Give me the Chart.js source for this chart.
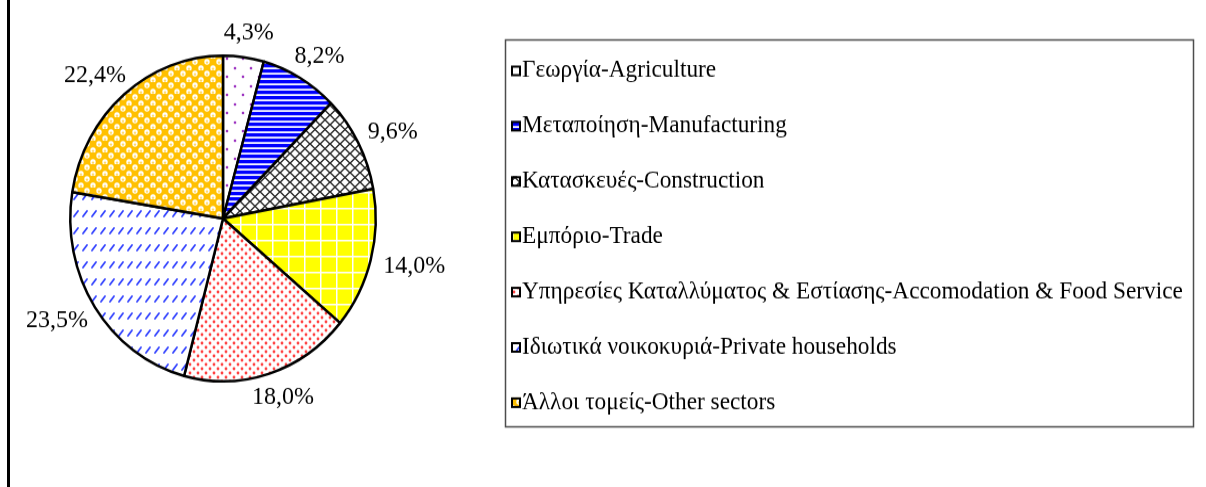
<!DOCTYPE html>
<html>
<head>
<meta charset="utf-8">
<title>Employment by sector</title>
<script src="https://cdn.jsdelivr.net/npm/chart.js@4.4.1/dist/chart.umd.min.js"></script>
<style>
    html, body { margin: 0; padding: 0; background: #ffffff; }
    #wrap { position: relative; width: 1206px; height: 487px; }
</style>
</head>
<body>
<div id="wrap">
    <!-- drawn at 1206x457 and shown at 1206x487: the original figure is a bit stretched vertically -->
    <canvas id="sectors" width="1206" height="457" style="width:1206px;height:487px;"></canvas>
</div>
<script>
(function() {
    'use strict';

    // Sector names (legend order = slice order, clockwise from 12 o'clock)
    var categories = [
        'Γεωργία-Agriculture',
        'Μεταποίηση-Manufacturing',
        'Κατασκευές-Construction',
        'Εμπόριο-Trade',
        'Υπηρεσίες Καταλλύματος & Εστίασης-Accomodation & Food Service',
        'Ιδιωτικά νοικοκυριά-Private households',
        'Άλλοι τομείς-Other sectors'
    ];

    // Share of each sector, %
    var shares = [4.3, 8.2, 9.6, 14.0, 18.0, 23.5, 22.4];

    var FONT = '"Liberation Serif", "Times New Roman", Times, serif';

    /**
     * Build a repeating fill from a small tile
     */
    function makePattern(w, h, paint) {
        var tile = document.createElement('canvas');
        tile.width = w;
        tile.height = h;
        var c = tile.getContext('2d');
        paint(c, w, h);
        return c.createPattern(tile, 'repeat');
    }

    function dot(c, x, y, r, color) {
        c.fillStyle = color;
        c.beginPath();
        c.arc(x, y, r, 0, Math.PI * 2);
        c.fill();
    }

    var painters = [
        // sparse purple dots
        function(c, w, h) {
            c.fillStyle = '#ffffff';
            c.fillRect(0, 0, w, h);
            dot(c, 3, 4, 1.3, '#9b30c0');
            dot(c, 11, 13, 1.3, '#9b30c0');
        },
        // blue horizontal stripes
        function(c, w, h) {
            c.fillStyle = '#ffffff';
            c.fillRect(0, 0, w, h);
            c.fillStyle = '#0000ff';
            c.fillRect(0, 0, w, 3);
            c.fillStyle = '#9999ff';
            c.fillRect(0, 3, w, 0.6);
        },
        // black diagonal lattice
        function(c, w, h) {
            c.fillStyle = '#ffffff';
            c.fillRect(0, 0, w, h);
            c.strokeStyle = '#222222';
            c.lineWidth = 1.4;
            c.beginPath();
            c.moveTo(-1, -1); c.lineTo(w + 1, h + 1);
            c.moveTo(-1, h + 1); c.lineTo(w + 1, -1);
            c.stroke();
        },
        // yellow with white grid
        function(c, w, h) {
            c.fillStyle = '#ffff00';
            c.fillRect(0, 0, w, h);
            c.fillStyle = '#ffffff';
            c.fillRect(0, 0, w, 1.5);
            c.fillRect(0, 0, 1.5, h);
        },
        // dense red dots
        function(c, w, h) {
            c.fillStyle = '#ffffff';
            c.fillRect(0, 0, w, h);
            dot(c, 2, 2, 1.4, '#ff4040');
            dot(c, 6, 6, 1.4, '#ff4040');
        },
        // blue short diagonal dashes
        function(c, w, h) {
            c.fillStyle = '#ffffff';
            c.fillRect(0, 0, w, h);
            c.strokeStyle = '#3040ff';
            c.lineWidth = 1.8;
            c.lineCap = 'round';
            c.beginPath();
            c.moveTo(2, 11);
            c.lineTo(6, 6);
            c.stroke();
        },
        // gold checker with white rings
        function(c, w, h) {
            c.fillStyle = '#ffc000';
            c.fillRect(0, 0, w, h);
            dot(c, 3, 3, 2.7, '#ffffff');
            dot(c, 9, 9, 2.7, '#ffffff');
            dot(c, 3, 3.6, 1.2, '#ffd966');
            dot(c, 9, 9.6, 1.2, '#ffd966');
        }
    ];
    var tileSizes = [[16, 17], [8, 5], [10, 9], [16, 15], [8, 8], [9, 16], [12, 11]];

    var fills = painters.map(function(p, i) {
        return makePattern(tileSizes[i][0], tileSizes[i][1], p);
    });

    /**
     * Frame line, boxed legend and outside percentage labels
     */
    var decor = {
        id: 'decor',
        afterDraw: function(chart) {
            var ctx = chart.ctx;
            ctx.save();

            // left frame edge
            ctx.fillStyle = '#000000';
            ctx.fillRect(7, 0, 3, chart.height);

            // percentage labels: text box sits just outside the rim, along the mid-angle
            var meta = chart.getDatasetMeta(0);
            ctx.font = '24px ' + FONT;
            ctx.textAlign = 'center';
            ctx.textBaseline = 'middle';
            ctx.fillStyle = '#000000';
            meta.data.forEach(function(arc, i) {
                var p = arc.getProps(['x', 'y', 'startAngle', 'endAngle', 'outerRadius'], true);
                var mid = (p.startAngle + p.endAngle) / 2;
                var ux = Math.cos(mid), uy = Math.sin(mid);
                var txt = shares[i].toFixed(1).replace('.', ',') + '%';
                var w = ctx.measureText(txt).width;
                var d = p.outerRadius + 14;
                ctx.fillText(txt, p.x + ux * d + ux * w / 2, p.y + uy * d + uy * 9);
            });

            // legend box
            var bx = 505, by = 37.5, bw = 688, bh = 363;
            ctx.strokeStyle = '#4d4d4d';
            ctx.lineWidth = 1.5;
            ctx.strokeRect(bx + 0.5, by, bw, bh);

            ctx.font = '23.3px ' + FONT;
            ctx.textAlign = 'left';
            categories.forEach(function(name, i) {
                var cy = 66 + i * 51.9;
                ctx.fillStyle = fills[i];
                ctx.fillRect(511, cy - 4.5, 10, 9);
                ctx.strokeStyle = '#000000';
                ctx.lineWidth = 2;
                ctx.strokeRect(512, cy - 3.5, 8, 8);
                ctx.fillStyle = '#000000';
                ctx.fillText(name, 522, cy);
            });

            ctx.restore();
        }
    };

    new Chart(document.getElementById('sectors').getContext('2d'), {
        type: 'pie',
        data: {
            labels: categories,
            datasets: [{
                data: shares,
                backgroundColor: fills,
                borderColor: '#000000',
                borderWidth: 2.5,
                borderAlign: 'center'
            }]
        },
        options: {
            responsive: false,
            animation: false,
            events: [],
            layout: {
                padding: { left: 69, top: 51, right: 829, bottom: 98 }
            },
            plugins: {
                legend: { display: false },
                tooltip: { enabled: false }
            }
        },
        plugins: [decor]
    });
})();
</script>
</body>
</html>
